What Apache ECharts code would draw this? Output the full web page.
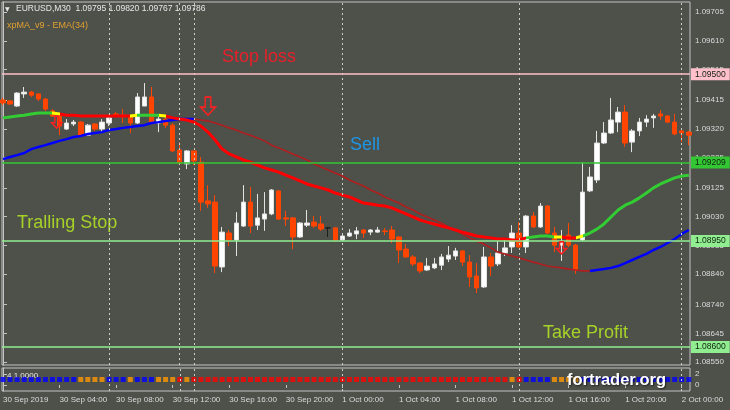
<!DOCTYPE html>
<html>
<head>
<meta charset="utf-8">
<script src="https://cdn.jsdelivr.net/npm/echarts@6/dist/echarts.min.js"></script>
<style>
  html, body { margin: 0; padding: 0; background: #4e504a; }
  #main { width: 730px; height: 410px; }
</style>
</head>
<body>
<div id="main"></div>
<script>
// EURUSD M30, bar 0 = 30 Sep 2019 00:00
var opens = [
  1.09415,1.09412,1.09395,1.09435,1.09441,1.09435,1.09418,1.09379,1.09362,1.09319,
  1.09336,1.09342,1.09299,1.09336,1.09319,1.09339,1.09369,1.09365,1.09359,1.09339,
  1.09395,1.09425,1.09339,1.09352,1.09332,1.09250,1.09204,1.09247,1.09210,1.09082,
  1.09078,1.08864,1.08976,1.08953,1.08999,1.09078,1.09002,1.09022,1.09039,1.09115,
  1.09026,1.09026,1.08963,1.09002,1.09012,1.09006,1.08993,1.08993,1.08953,1.08966,
  1.08973,1.08986,1.08979,1.08979,1.08983,1.08986,1.08963,1.08923,1.08897,1.08877,
  1.08854,1.08861,1.08870,1.08890,1.08900,1.08917,1.08880,1.08834,1.08798,1.08897,
  1.08874,1.08910,1.08930,1.08976,1.08930,1.09032,1.08996,1.09065,1.08976,1.08936,
  1.08969,1.08936,1.08953,1.09115,1.09151,1.09273,1.09306,1.09342,1.09375,1.09276,
  1.09313,1.09342,1.09356,1.09369,1.09362,1.09342,1.09313,1.09309
];
var closes = [
  1.09405,1.09402,1.09438,1.09441,1.09431,1.09418,1.09385,1.09362,1.09329,1.09339,
  1.09342,1.09296,1.09332,1.09319,1.09342,1.09356,1.09365,1.09362,1.09339,1.09425,
  1.09425,1.09339,1.09352,1.09332,1.09247,1.09207,1.09247,1.09214,1.09078,1.09072,
  1.08867,1.08979,1.08953,1.09009,1.09078,1.08999,1.09026,1.09039,1.09118,1.09022,
  1.09022,1.08963,1.09009,1.09009,1.08999,1.08989,1.08993,1.08953,1.08966,1.08976,
  1.08983,1.08976,1.08986,1.08986,1.08981,1.08956,1.08920,1.08897,1.08874,1.08851,
  1.08867,1.08874,1.08897,1.08903,1.08917,1.08880,1.08831,1.08795,1.08897,1.08867,
  1.08910,1.08927,1.08976,1.08930,1.09032,1.08996,1.09065,1.08976,1.08936,1.08946,
  1.08936,1.08854,1.09111,1.09161,1.09273,1.09306,1.09349,1.09375,1.09273,1.09313,
  1.09342,1.09352,1.09362,1.09362,1.09342,1.09303,1.09306,1.09299
];
var lows = [
  1.09398,1.09398,1.09392,1.09422,1.09425,1.09412,1.09379,1.09359,1.09299,1.09316,
  1.09329,1.09293,1.09296,1.09313,1.09309,1.09329,1.09359,1.09339,1.09306,1.09336,
  1.09395,1.09336,1.09309,1.09323,1.09243,1.09200,1.09187,1.09200,1.09049,1.09059,
  1.08844,1.08847,1.08933,1.08900,1.08996,1.08976,1.08986,1.08983,1.09035,1.09019,
  1.08999,1.08923,1.08960,1.08996,1.08993,1.08983,1.08963,1.08950,1.08950,1.08963,
  1.08956,1.08960,1.08969,1.08976,1.08969,1.08943,1.08877,1.08894,1.08867,1.08844,
  1.08851,1.08857,1.08854,1.08880,1.08887,1.08867,1.08798,1.08778,1.08795,1.08834,
  1.08867,1.08900,1.08910,1.08927,1.08910,1.08993,1.08993,1.08973,1.08913,1.08884,
  1.08930,1.08841,1.08950,1.09111,1.09141,1.09270,1.09303,1.09309,1.09260,1.09243,
  1.09296,1.09326,1.09323,1.09349,1.09339,1.09299,1.09276,1.09266
];
var highs = [
  1.09422,1.09415,1.09441,1.09458,1.09445,1.09438,1.09422,1.09385,1.09369,1.09352,
  1.09349,1.09346,1.09336,1.09339,1.09352,1.09359,1.09375,1.09385,1.09362,1.09438,
  1.09471,1.09458,1.09365,1.09356,1.09339,1.09276,1.09250,1.09247,1.09227,1.09134,
  1.09101,1.08996,1.08986,1.09045,1.09134,1.09128,1.09105,1.09111,1.09121,1.09118,
  1.09049,1.09029,1.09012,1.09052,1.09032,1.09032,1.08996,1.08996,1.08973,1.08989,
  1.08996,1.08989,1.08989,1.08996,1.08993,1.08999,1.08966,1.08940,1.08903,1.08880,
  1.08894,1.08894,1.08907,1.08933,1.08927,1.08920,1.08903,1.08877,1.08930,1.08910,
  1.08950,1.08953,1.09002,1.09012,1.09035,1.09045,1.09075,1.09068,1.08996,1.08986,
  1.09009,1.08940,1.09210,1.09194,1.09313,1.09342,1.09422,1.09392,1.09398,1.09319,
  1.09356,1.09365,1.09369,1.09382,1.09365,1.09369,1.09323,1.09313
];

// xpMA (fast line) and EMA(34)
var xpma = [
  1.09356,1.09359,1.09362,1.09365,1.09369,1.09372,1.09372,1.09372,1.09369,1.09365,
  1.09365,1.09362,1.09362,1.09362,1.09362,1.09362,1.09362,1.09362,1.09362,1.09365,
  1.09365,1.09365,1.09365,1.09362,1.09356,1.09352,1.09349,1.09342,1.09329,1.09309,
  1.09283,1.09253,1.09237,1.09227,1.09217,1.09210,1.09200,1.09191,1.09184,1.09177,
  1.09167,1.09158,1.09148,1.09138,1.09131,1.09125,1.09118,1.09108,1.09101,1.09095,
  1.09085,1.09075,1.09072,1.09068,1.09065,1.09059,1.09049,1.09039,1.09029,1.09019,
  1.09012,1.09006,1.08999,1.08993,1.08986,1.08979,1.08973,1.08966,1.08963,1.08960,
  1.08956,1.08956,1.08953,1.08953,1.08960,1.08963,1.08966,1.08966,1.08963,1.08963,
  1.08960,1.08960,1.08966,1.08976,1.08989,1.09006,1.09029,1.09052,1.09068,1.09078,
  1.09092,1.09108,1.09125,1.09138,1.09148,1.09158,1.09164,1.09167
];
var ema = [
  1.09220,1.09227,1.09233,1.09240,1.09253,1.09260,1.09266,1.09273,1.09280,1.09286,
  1.09293,1.09296,1.09303,1.09306,1.09309,1.09316,1.09319,1.09323,1.09326,1.09329,
  1.09332,1.09339,1.09342,1.09346,1.09349,1.09352,1.09352,1.09352,1.09349,1.09346,
  1.09339,1.09332,1.09323,1.09316,1.09306,1.09299,1.09290,1.09280,1.09266,1.09257,
  1.09247,1.09237,1.09227,1.09217,1.09204,1.09194,1.09184,1.09174,1.09164,1.09151,
  1.09141,1.09131,1.09118,1.09108,1.09095,1.09085,1.09075,1.09062,1.09052,1.09039,
  1.09029,1.09019,1.09009,1.08996,1.08986,1.08973,1.08960,1.08950,1.08940,1.08927,
  1.08913,1.08907,1.08900,1.08894,1.08887,1.08880,1.08874,1.08867,1.08864,1.08861,
  1.08857,1.08854,1.08851,1.08851,1.08854,1.08857,1.08861,1.08867,1.08877,1.08887,
  1.08897,1.08907,1.08920,1.08930,1.08943,1.08956,1.08973,1.08986
];
// xpMA trend runs: 1 up, 0 flat, -1 down
var xpmaRunStart = [0, 7, 8, 18, 19, 22, 23, 74, 78, 79, 81, 82];
var xpmaRunTrend = [1, 0, -1, 0, 1, 0, -1, 1, 0, -1, 0, 1];

// signal strip in the sub window: 1 blue, 0 orange, -1 red
var signal = [
  1,1,1,1,1,1,1,1,1,1, 1,0,0,0,0,1,1,1,0,1,
  1,1,0,0,0,-1,0,-1,-1,-1, -1,-1,-1,-1,-1,-1,-1,-1,-1,-1,
  -1,-1,-1,-1,-1,-1,-1,-1,-1,-1, -1,-1,-1,-1,-1,-1,-1,-1,-1,-1,
  -1,-1,-1,-1,-1,-1,-1,-1,-1,-1, -1,-1,0,-1,1,1,1,1,0,0,
  0,0,1,1,1,1,1,1,1,1, 1,1,1,1,1,1,1,1
];

var levelPrices = [1.09500, 1.09209, 1.08950, 1.08600];
var vlineBars = [15, 25, 27, 48, 73, 96];
var arrowBars = [29, 7.6, 79];
var arrowPrices = [1.09395, 1.09342, 1.08927];

var priceTicks = [1.09705, 1.09610, 1.09515, 1.09415, 1.09320, 1.09225, 1.09125,
                  1.09030, 1.08935, 1.08840, 1.08740, 1.08645, 1.08550];
var timeTickBars = [0, 8, 16, 24, 32, 40, 48, 56, 64, 72, 80, 88, 96];
var timeLabels = ['30 Sep 2019', '30 Sep 04:00', '30 Sep 08:00', '30 Sep 12:00',
                  '30 Sep 16:00', '30 Sep 20:00', '1 Oct 00:00', '1 Oct 04:00',
                  '1 Oct 08:00', '1 Oct 12:00', '1 Oct 16:00', '1 Oct 20:00', '2 Oct 00:00'];

var myChart = echarts.init(document.getElementById('main'));

var FONT = '"Liberation Sans", Arial, sans-serif';
var AXIS_TXT = '#dcdcdc';
var FRAME = '#c4c4c4';
var levelColors = ['#ffc0cb', '#33c833', '#90ee90', '#90ee90'];
var trendColors = { '1': '#32cd32', '0': '#ffff00', '-1': '#ff0000' };
var signalColors = { '1': '#0000ff', '0': '#ff9900', '-1': '#ff0000' };

// candles
var candleData = opens.map(function (o, i) {
  var item = { value: [i, o, closes[i], lows[i], highs[i]] };
  if (o === closes[i]) {
    item.itemStyle = { color: '#1e1e1e', color0: '#1e1e1e', borderColor: '#1e1e1e', borderColor0: '#1e1e1e' };
  }
  return item;
});

// EMA split into rising (blue) and falling (dark red) parts
var segUp = [];
for (var i = 0; i < ema.length - 1; i++) {
  if (ema[i + 1] > ema[i]) segUp.push(true);
  else if (ema[i + 1] < ema[i]) segUp.push(false);
  else segUp.push(i > 0 ? segUp[i - 1] : true);
}
var emaUp = [], emaDown = [];
ema.forEach(function (v, i) {
  var a = i > 0 ? segUp[i - 1] : segUp[0];
  var b = i < segUp.length ? segUp[i] : segUp[segUp.length - 1];
  emaUp.push([i, (a || b) ? v : null]);
  emaDown.push([i, (!a || !b) ? v : null]);
});

var xpmaPieces = xpmaRunStart.map(function (s, k) {
  var p = { gte: s, color: trendColors[xpmaRunTrend[k]] };
  if (k < xpmaRunStart.length - 1) p.lt = xpmaRunStart[k + 1];
  return p;
});

var levelLines = levelPrices.map(function (p, k) {
  return {
    yAxis: p,
    lineStyle: { color: levelColors[k], width: 1.6, type: 'solid' },
    label: { backgroundColor: levelColors[k] }
  };
});

var arrowPoints = arrowBars.map(function (b, k) {
  return { coord: [b, arrowPrices[k]], symbolSize: k === 0 ? [15, 18] : [10, 12] };
});

var xMin = -0.14, xMax = 97.17;

var option = {
  backgroundColor: '#4e504a',
  animation: false,
  grid: [
    { left: 2, top: 2, width: 688, height: 363, show: true, borderColor: FRAME, borderWidth: 1 },
    { left: 2, top: 368, width: 688, height: 23, show: true, borderColor: FRAME, borderWidth: 1 }
  ],
  visualMap: [{
    show: false, type: 'piecewise', seriesIndex: 1, dimension: 0,
    pieces: xpmaPieces
  }],
  xAxis: [
    { type: 'value', gridIndex: 0, min: xMin, max: xMax, show: false, splitLine: { show: false } },
    {
      type: 'value', gridIndex: 1, min: xMin, max: xMax,
      axisLine: { show: false },
      splitLine: { show: false },
      axisTick: { show: true, customValues: timeTickBars, length: 3, lineStyle: { color: FRAME } },
      axisLabel: {
        customValues: timeTickBars, align: 'left', margin: 5,
        color: AXIS_TXT, fontSize: 8, fontFamily: FONT,
        formatter: function (v) { return timeLabels[timeTickBars.indexOf(v)]; }
      }
    }
  ],
  yAxis: [
    {
      type: 'value', gridIndex: 0, position: 'right',
      min: 1.085405, max: 1.097384,
      axisLine: { show: true, lineStyle: { color: FRAME } },
      splitLine: { show: false },
      axisTick: { show: true, customValues: priceTicks, length: 4, lineStyle: { color: FRAME } },
      axisLabel: {
        customValues: priceTicks, margin: 5,
        color: AXIS_TXT, fontSize: 8, fontFamily: FONT,
        formatter: function (v) { return v.toFixed(5); }
      }
    },
    {
      type: 'value', gridIndex: 1, position: 'right',
      min: -1.09, max: 3.09,
      axisLine: { show: true, lineStyle: { color: FRAME } },
      splitLine: { show: false },
      axisTick: { show: true, customValues: [0, 2], length: 4, lineStyle: { color: FRAME } },
      axisLabel: { customValues: [0, 2], margin: 5, color: AXIS_TXT, fontSize: 8, fontFamily: FONT }
    }
  ],
  series: [
    {
      type: 'candlestick',
      xAxisIndex: 0, yAxisIndex: 0,
      encode: { x: 0, y: [1, 2, 3, 4] },
      barWidth: 5,
      data: candleData,
      itemStyle: {
        color: '#ffffff', color0: '#ff4500',
        borderColor: '#e2e2e2', borderColor0: '#ff4500', borderWidth: 1
      },
      markPoint: {
        silent: true, animation: false,
        symbol: 'path://M5,0 L11,0 L11,10 L16,10 L8,18 L0,10 L5,10 Z',
        itemStyle: { color: 'rgba(0,0,0,0)', borderColor: '#ff2020', borderWidth: 1.5 },
        label: { show: false },
        data: arrowPoints
      },
      z: 2
    },
    {
      type: 'line', name: 'xpMA', xAxisIndex: 0, yAxisIndex: 0,
      data: xpma.map(function (v, i) { return [i, v]; }),
      showSymbol: false, lineStyle: { width: 3 }, z: 4
    },
    {
      type: 'line', name: 'EMA up', xAxisIndex: 0, yAxisIndex: 0,
      data: emaUp, showSymbol: false, connectNulls: false,
      lineStyle: { width: 2.5, color: '#0000ff' }, itemStyle: { color: '#0000ff' }, z: 3
    },
    {
      type: 'line', name: 'EMA down', xAxisIndex: 0, yAxisIndex: 0,
      data: emaDown, showSymbol: false, connectNulls: false,
      lineStyle: { width: 1.6, color: '#b01e1e' }, itemStyle: { color: '#b01e1e' }, z: 3
    },
    {
      type: 'line', xAxisIndex: 0, yAxisIndex: 0, data: [],
      markLine: {
        silent: true, symbol: ['none', 'none'], animation: false,
        label: { show: false },
        lineStyle: { color: '#cfcfc6', width: 1, type: [2, 3] },
        data: vlineBars.map(function (b) { return { xAxis: b }; })
      }
    },
    {
      type: 'line', xAxisIndex: 0, yAxisIndex: 0, data: [], z: 5,
      markLine: {
        silent: true, symbol: ['none', 'none'], animation: false,
        precision: 5,
        label: {
          show: true, position: 'end', distance: 1,
          formatter: function (p) { return Number(p.value).toFixed(5); },
          color: '#102010', fontSize: 8.5, fontFamily: FONT, padding: [2, 4, 1, 4]
        },
        data: levelLines
      }
    },
    {
      type: 'scatter', xAxisIndex: 1, yAxisIndex: 1,
      symbol: 'rect', symbolSize: 5,
      data: signal.map(function (s, i) {
        return { value: [i, 1], itemStyle: { color: signalColors[s] } };
      }),
      markLine: {
        silent: true, symbol: ['none', 'none'], animation: false,
        label: { show: false },
        lineStyle: { color: '#cfcfc6', width: 1, type: [2, 3] },
        data: vlineBars.map(function (b) { return { xAxis: b }; })
      }
    }
  ],
  graphic: [
    { type: 'text', x: 5, y: 9, style: { text: '▼', fill: '#e8e8e8', font: '6px "DejaVu Sans"', verticalAlign: 'middle' } },
    { type: 'text', x: 16, y: 9, style: { text: 'EURUSD,M30  1.09795 1.09820 1.09767 1.09786', fill: '#e8e8e8', font: '8.5px ' + FONT, verticalAlign: 'middle' } },
    { type: 'text', x: 7, y: 26, style: { text: 'xpMA_v9 - EMA(34)', fill: '#e0a030', font: '9px ' + FONT, verticalAlign: 'middle' } },
    { type: 'text', x: 222, y: 57, style: { text: 'Stop loss', fill: '#e8202a', font: '18px ' + FONT, verticalAlign: 'middle' } },
    { type: 'text', x: 350, y: 145, style: { text: 'Sell', fill: '#1e96e6', font: '18px ' + FONT, verticalAlign: 'middle' } },
    { type: 'text', x: 17, y: 223, style: { text: 'Tralling Stop', fill: '#a6d228', font: '18px ' + FONT, verticalAlign: 'middle' } },
    { type: 'text', x: 543, y: 333, style: { text: 'Take Profit', fill: '#a6d228', font: '18px ' + FONT, verticalAlign: 'middle' } },
    { type: 'text', x: 7, y: 376, style: { text: '4 1.0000', fill: '#e8e8e8', font: '8px ' + FONT, verticalAlign: 'middle' } },
    { type: 'text', x: 567, y: 380, z: 100, style: {
        text: 'fortrader.org', fill: '#ffffff', font: 'bold 16.5px ' + FONT, verticalAlign: 'middle',
        textShadowColor: 'rgba(0,0,0,0.6)', textShadowBlur: 2, textShadowOffsetX: 1, textShadowOffsetY: 1
    } }
  ]
};

myChart.setOption(option);
</script>
</body>
</html>
